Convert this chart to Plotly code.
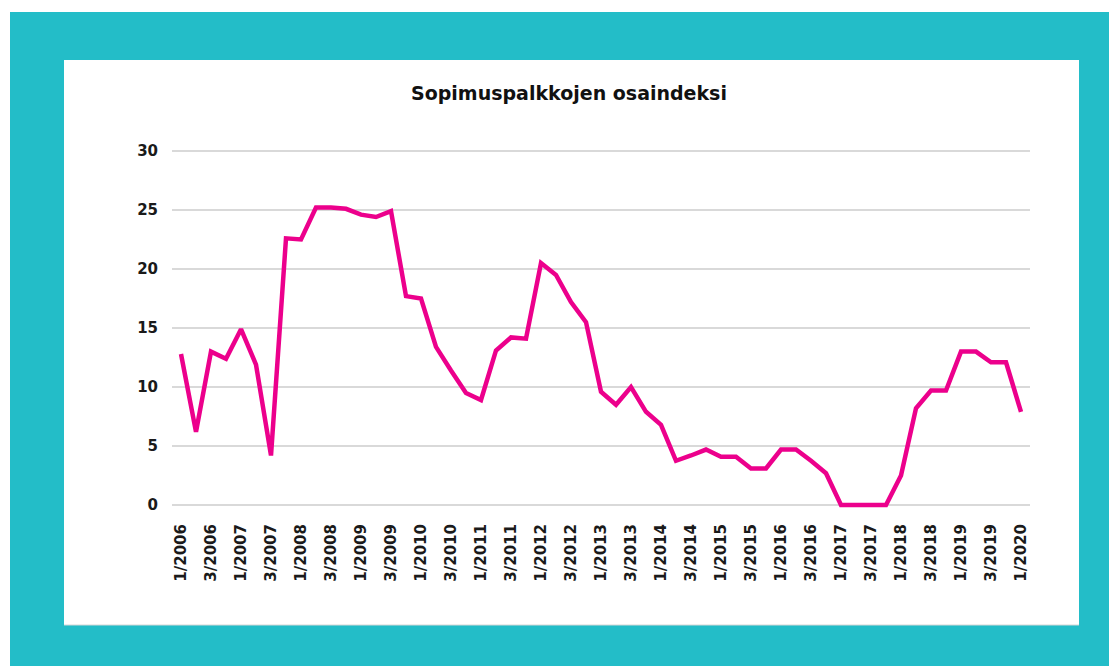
import plotly.graph_objects as go

# Quarterly categories 1/2006 .. 1/2020
quarters = [f"{q}/{y}" for y in range(2006, 2021) for q in (1, 2, 3, 4)][:57]

values = [12.8, 6.2, 13.0, 12.4, 14.9, 11.9, 4.2, 22.6, 22.5, 25.2,
          25.2, 25.1, 24.6, 24.4, 24.9, 17.7, 17.5, 13.4, 11.4, 9.5,
          8.9, 13.1, 14.2, 14.1, 20.5, 19.5, 17.2, 15.5, 9.6, 8.5,
          10.0, 7.9, 6.8, 3.75, 4.2, 4.7, 4.1, 4.1, 3.1, 3.1,
          4.7, 4.7, 3.75, 2.7, 0, 0, 0, 0, 2.5, 8.2,
          9.7, 9.7, 13.0, 13.0, 12.1, 12.1, 7.9]

tick_labels = [q for q in quarters if q.split("/")[0] in ("1", "3")]
y_ticks = [0, 5, 10, 15, 20, 25, 30]

title_text = "Sopimuspalkkojen osaindeksi"

OFF = 8  # page body margin
W, H = 1117 - OFF, 666 - OFF
ML, MR, MT, MB = 172 - OFF, 87, 148 - OFF, 158
pw, ph = W - ML - MR, H - MT - MB


def px(x):
    # x in page pixels
    return (x - OFF - ML) / pw


def py(y):
    return (H - MB - (y - OFF)) / ph


font_bold = dict(family="DejaVu Sans", size=15, color="#1a1a1a", weight="bold")

fig = go.Figure()
fig.add_trace(go.Scatter(
    x=quarters, y=values, mode="lines",
    line=dict(color="#EC008C", width=4.5),
    hoverinfo="x+y", showlegend=False,
))

fig.update_layout(
    width=W, height=H,
    margin=dict(l=ML, r=MR, t=MT, b=MB, pad=0),
    paper_bgcolor="white",
    plot_bgcolor="white",
    shapes=[
        dict(type="rect", xref="paper", yref="paper", layer="below",
             x0=px(10), x1=px(1117 + 20), y0=py(666 + 20), y1=py(12),
             fillcolor="#23BDC8", line=dict(width=0)),
        dict(type="rect", xref="paper", yref="paper", layer="below",
             x0=px(64), x1=px(1079), y0=py(625), y1=py(60),
             fillcolor="white", line=dict(width=0)),
        dict(type="line", xref="paper", yref="paper", layer="below",
             x0=px(64), x1=px(1079), y0=py(625), y1=py(625),
             line=dict(color="#d6d6d6", width=1)),
    ],
    annotations=[
        dict(text=title_text, xref="paper", yref="paper",
             x=px(569), y=py(93), xanchor="center", yanchor="middle",
             showarrow=False,
             font=dict(family="DejaVu Sans", size=19, color="#111111", weight="bold")),
    ],
)

fig.update_xaxes(
    type="category",
    range=[-0.6, 56.6],
    tickmode="array", tickvals=tick_labels, ticktext=tick_labels,
    tickangle=-90, tickfont=font_bold,
    ticks="", showgrid=False, zeroline=False, showline=False,
    ticklabelstandoff=12,
)
fig.update_yaxes(
    range=[-0.25, 30.25],
    tickmode="array", tickvals=y_ticks,
    tickfont=font_bold,
    showgrid=True, gridcolor="#d9d9d9", gridwidth=1.5,
    zeroline=False, showline=False, ticks="",
    ticklabelstandoff=13,
)

fig.write_html("out.html")
